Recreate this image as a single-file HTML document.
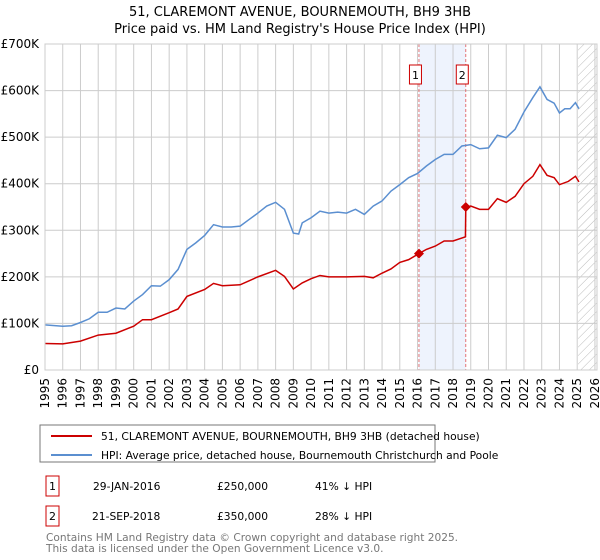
<!DOCTYPE html>
<html><head><meta charset="utf-8"><style>
body{margin:0;background:#fff;font-family:"Liberation Sans","DejaVu Sans",sans-serif;}
#wrap{position:relative;width:600px;height:560px;overflow:hidden}
svg text{font-family:"DejaVu Sans","Liberation Sans",sans-serif}
</style></head><body><div id="wrap">
<svg id="c" width="600" height="560" viewBox="0 0 600 560">
<defs><pattern id="hatch" width="6" height="6" patternUnits="userSpaceOnUse" patternTransform="rotate(45)"><line x1="0" y1="0" x2="0" y2="6" stroke="#bbb" stroke-width="1"/></pattern></defs>
<text x="300" y="16" text-anchor="middle" font-size="13">51, CLAREMONT AVENUE, BOURNEMOUTH, BH9 3HB</text>
<text x="300" y="33" text-anchor="middle" font-size="13">Price paid vs. HM Land Registry's House Price Index (HPI)</text>
<g id="grid"></g><g id="series"></g><g id="axes"></g>
<rect x="40" y="425" width="395" height="37" fill="#fff" stroke="#777"/>
<line x1="51" y1="436" x2="92" y2="436" stroke="#cc0000" stroke-width="2"/>
<text x="101" y="440" font-size="10.7">51, CLAREMONT AVENUE, BOURNEMOUTH, BH9 3HB (detached house)</text>
<line x1="51" y1="455" x2="92" y2="455" stroke="#5b8fd0" stroke-width="2"/>
<text x="101" y="459" font-size="10.7">HPI: Average price, detached house, Bournemouth Christchurch and Poole</text>
<g>
<rect x="46" y="476" width="13" height="20" fill="#fff" stroke="#cc0000"/><text x="52.5" y="490" text-anchor="middle" font-size="11">1</text>
<text x="93" y="490" font-size="10.7">29-JAN-2016</text><text x="217" y="490" font-size="10.7">£250,000</text><text x="315" y="490" font-size="10.7">41% ↓ HPI</text></g>
<g>
<rect x="46" y="506" width="13" height="20" fill="#fff" stroke="#cc0000"/><text x="52.5" y="520" text-anchor="middle" font-size="11">2</text>
<text x="92" y="520" font-size="10.7">21-SEP-2018</text><text x="217" y="520" font-size="10.7">£350,000</text><text x="315" y="520" font-size="10.7">28% ↓ HPI</text></g>
<text x="46" y="541" font-size="10.6" fill="#777">Contains HM Land Registry data © Crown copyright and database right 2025.</text>
<text x="46" y="552" font-size="10.6" fill="#777">This data is licensed under the Open Government Licence v3.0.</text>
</svg></div>
<script>
const hpiYears=[1995,1996,1996.5,1997,1997.5,1998,1998.5,1999,1999.5,2000,2000.5,2001,2001.5,2002,2002.5,2003,2003.5,2004,2004.5,2005,2005.5,2006,2006.5,2007,2007.5,2008,2008.5,2009,2009.3,2009.5,2010,2010.5,2011,2011.5,2012,2012.5,2013,2013.5,2014,2014.5,2015,2015.5,2016,2016.5,2017,2017.5,2018,2018.5,2019,2019.5,2020,2020.5,2021,2021.5,2022,2022.5,2022.9,2023.3,2023.7,2024,2024.3,2024.6,2024.9,2025.1];
const hpiValues=[97,94,95,102,110,124,124,133,131,148,162,181,180,194,216,259,273,289,312,307,307,309,323,337,352,360,345,294,292,316,327,341,337,339,337,345,334,352,363,384,398,413,422,438,452,463,463,481,484,475,477,504,499,517,554,585,608,581,573,552,561,561,574,561];
const priceYears=[1995,1996,1997,1998,1999,2000,2000.5,2001,2002,2002.5,2003,2004,2004.5,2005,2006,2007,2008,2008.5,2009,2009.5,2010,2010.5,2011,2012,2013,2013.5,2014,2014.5,2015,2015.5,2016.08,2016.5,2017,2017.5,2018,2018.7,2018.72,2019,2019.5,2020,2020.5,2021,2021.5,2022,2022.5,2022.9,2023.3,2023.7,2024,2024.5,2024.9,2025.1];
const priceValues=[57,56,62,75,79,94,108,108,123,131,158,173,186,181,183,200,214,201,174,187,196,203,200,200,201,198,208,217,231,237,250,259,266,277,277,286,350,352,345,345,368,360,373,400,416,441,418,413,398,405,416,404];
const saleYears=[2016.08,2018.72];
const saleValues=[250,350];
const saleLabels=["1","2"];
const yTicks=[0,100,200,300,400,500,600,700];
const yTickLabels=["£0","£100K","£200K","£300K","£400K","£500K","£600K","£700K"];
const xTicks=[1995,1996,1997,1998,1999,2000,2001,2002,2003,2004,2005,2006,2007,2008,2009,2010,2011,2012,2013,2014,2015,2016,2017,2018,2019,2020,2021,2022,2023,2024,2025,2026];
const NS="http://www.w3.org/2000/svg";
const X=y=>45+(y-1995)*17.74, Y=v=>370-v*0.4657;
const L=45,R=597,T=44,B=370;
function mk(p,t,a){const e=document.createElementNS(NS,t);for(const k in a)e.setAttribute(k,a[k]);p.appendChild(e);return e;}
const g=document.getElementById('grid'),s=document.getElementById('series'),ax=document.getElementById('axes');
let sh=mk(g,'rect',{x:X(saleYears[0]),y:T,width:X(saleYears[1])-X(saleYears[0]),height:B-T,fill:'#eef3fd'});


let ht=mk(g,'rect',{x:X(2025.05),y:T,width:R-X(2025.05),height:B-T,fill:'url(#hatch)'});


xTicks.forEach(t=>{const x=X(t);
 const l=mk(g,'line',{x1:x,y1:T,x2:x,y2:B,stroke:'#ccc','stroke-width':1});
 
 
 const tx=mk(ax,'text',{x:0,y:0,'font-size':12,'text-anchor':'end',transform:`translate(${x+4},${B+8}) rotate(-90)`});
 tx.textContent=t;
 
 
});
yTicks.forEach((v,i)=>{const y=Y(v);
 const l=mk(g,'line',{x1:L,y1:y,x2:R,y2:y,stroke:'#ccc','stroke-width':1});
 
 
 const tx=mk(ax,'text',{x:L-6,y:y+4,'font-size':12,'text-anchor':'end'});
 tx.textContent=yTickLabels[i];
 
 
});
const fr=mk(ax,'rect',{x:L,y:T,width:R-L,height:B-T,fill:'none',stroke:'#ccc'});


saleYears.forEach((yr,i)=>{const x=X(yr);
 const l=mk(s,'line',{x1:x,y1:T,x2:x,y2:B,stroke:'#e05555','stroke-width':0.8,'stroke-dasharray':'3,2'});
 
 
 const b=mk(s,'rect',{x:x-9.5,y:65,width:12,height:19,fill:'#fff',stroke:'#cc0000'});
 
 
 const t=mk(s,'text',{x:x-3.5,y:79,'font-size':11,'text-anchor':'middle'});t.textContent=saleLabels[i];
 
 
});
const hp=mk(s,'polyline',{points:hpiYears.map((y,i)=>X(y)+','+Y(hpiValues[i])).join(' '),fill:'none',stroke:'#5b8fd0','stroke-width':1.5});


const pp=mk(s,'polyline',{points:priceYears.map((y,i)=>X(y)+','+Y(priceValues[i])).join(' '),fill:'none',stroke:'#cc0000','stroke-width':1.5});


saleYears.forEach((yr,i)=>{const x=X(yr),y=Y(saleValues[i]);
 const d=mk(s,'path',{d:`M${x-5},${y}L${x},${y-5}L${x+5},${y}L${x},${y+5}Z`,fill:'#cc0000'});
 
 
});
</script></body></html>
